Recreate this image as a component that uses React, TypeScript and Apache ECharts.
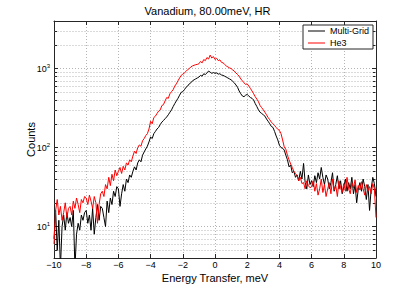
import React, { useEffect, useRef } from "react";
import * as echarts from "echarts";

const chartTitle = "Vanadium, 80.00meV, HR";
const xName = "Energy Transfer, meV";
const yName = "Counts";
const seriesNames = ["Multi-Grid", "He3"];

const energies = [
  -10, -9.9, -9.8, -9.7, -9.6, -9.5, -9.4, -9.3, -9.2, -9.1,
  -9, -8.9, -8.8, -8.7, -8.6, -8.5, -8.4, -8.3, -8.2, -8.1,
  -8, -7.9, -7.8, -7.7, -7.6, -7.5, -7.4, -7.3, -7.2, -7.1,
  -7, -6.9, -6.8, -6.7, -6.6, -6.5, -6.4, -6.3, -6.2, -6.1,
  -6, -5.9, -5.8, -5.7, -5.6, -5.5, -5.4, -5.3, -5.2, -5.1,
  -5, -4.9, -4.8, -4.7, -4.6, -4.5, -4.4, -4.3, -4.2, -4.1,
  -4, -3.9, -3.8, -3.7, -3.6, -3.5, -3.4, -3.3, -3.2, -3.1,
  -3, -2.9, -2.8, -2.7, -2.6, -2.5, -2.4, -2.3, -2.2, -2.1,
  -2, -1.9, -1.8, -1.7, -1.6, -1.5, -1.4, -1.3, -1.2, -1.1,
  -1, -0.9, -0.8, -0.7, -0.6, -0.5, -0.4, -0.3, -0.2, -0.1,
  0, 0.1, 0.2, 0.3, 0.4, 0.5, 0.6, 0.7, 0.8, 0.9,
  1, 1.1, 1.2, 1.3, 1.4, 1.5, 1.6, 1.7, 1.8, 1.9,
  2, 2.1, 2.2, 2.3, 2.4, 2.5, 2.6, 2.7, 2.8, 2.9,
  3, 3.1, 3.2, 3.3, 3.4, 3.5, 3.6, 3.7, 3.8, 3.9,
  4, 4.1, 4.2, 4.3, 4.4, 4.5, 4.6, 4.7, 4.8, 4.9,
  5, 5.1, 5.2, 5.3, 5.4, 5.5, 5.6, 5.7, 5.8, 5.9,
  6, 6.1, 6.2, 6.3, 6.4, 6.5, 6.6, 6.7, 6.8, 6.9,
  7, 7.1, 7.2, 7.3, 7.4, 7.5, 7.6, 7.7, 7.8, 7.9,
  8, 8.1, 8.2, 8.3, 8.4, 8.5, 8.6, 8.7, 8.8, 8.9,
  9, 9.1, 9.2, 9.3, 9.4, 9.5, 9.6, 9.7, 9.8, 9.9,
  10,
];

const multiGrid = [
  7, 16, 5, 12, 3, 10, 14, 9, 15, 11,
  13, 10, 16, 3, 8, 11, 9, 14, 12, 15,
  16, 11, 14, 9, 17, 8, 13, 19, 12, 18,
  17, 13, 10, 21, 15, 23, 19, 28, 24, 32,
  30, 18, 26, 34, 28, 40, 36, 45, 42, 50,
  57, 52, 64, 70, 66, 80, 88, 96, 104, 118,
  136, 130, 150, 160, 172, 180, 196, 210, 220, 232,
  244, 260, 280, 300, 330, 360, 390, 420, 460, 500,
  510, 540, 580, 600, 640, 660, 700, 720, 740, 760,
  780, 820, 800, 860, 840, 880, 930, 900, 870, 890,
  870, 880, 850, 860, 830, 820, 800, 780, 760, 740,
  720, 690, 660, 620, 580, 520, 480, 450, 440, 460,
  470, 450, 430, 420, 400, 360, 330, 300, 280, 270,
  260, 250, 230, 215, 200, 185, 180, 160, 140, 125,
  107, 100, 98, 93, 80, 70, 57, 60, 48, 50,
  42, 45, 38, 50, 40, 63, 36, 30, 45, 34,
  38, 32, 44, 36, 48, 40, 56, 42, 34, 45,
  40, 30, 36, 48, 28, 34, 44, 30, 38, 26,
  32, 40, 28, 36, 30, 42, 26, 34, 20, 30,
  36, 28, 40, 32, 22, 34, 16, 30, 42, 35,
  24,
];

const he3 = [
  6, 16, 22, 14, 18, 12, 15, 20, 13, 17,
  18, 14, 21, 17, 23, 19, 15, 22, 20, 24,
  23, 19, 25, 21, 17, 24, 20, 11, 19, 26,
  28, 24, 34, 30, 42, 33, 46, 38, 52, 44,
  50, 56, 47, 58, 52, 64, 60, 70, 66, 78,
  90, 84, 100, 108, 104, 122, 130, 142, 150, 172,
  215, 200, 240, 250, 270, 290, 300, 340, 350, 390,
  430, 420, 480, 510, 540, 600, 640, 700, 760, 820,
  850, 880, 920, 970, 1000, 1050, 1080, 1100, 1120, 1130,
  1150, 1230, 1180, 1300, 1260, 1380, 1320, 1480, 1360, 1420,
  1300, 1350, 1260, 1290, 1200, 1180, 1130, 1080, 1050, 1020,
  1000, 960, 930, 880, 840, 800, 740, 700, 660, 630,
  640, 600, 560, 520, 480, 440, 410, 380, 340, 320,
  300, 280, 260, 240, 225, 210, 200, 190, 180, 170,
  165, 150, 125, 102, 95, 80, 70, 62, 56, 50,
  47, 44, 38, 42, 35, 36, 30, 38, 33, 31,
  32, 38, 28, 35, 25, 30, 40, 27, 34, 24,
  30, 36, 26, 40, 29, 33, 24, 38, 31, 27,
  35, 28, 42, 30, 26, 36, 31, 39, 27, 33,
  29, 37, 30, 25, 34, 28, 32, 26, 35, 30,
  13,
];

const minorGridValues = [5, 6, 7, 8, 9, 20, 30, 40, 50, 60, 70, 80, 90, 200, 300, 400, 500, 600, 700, 800, 900, 2000, 3000];

const X_MIN = -10;
const X_MAX = 10;
const X_STEP = 2;
const Y_MIN = 4;
const Y_MAX = 4000;

export default function App() {
  const ref = useRef<HTMLDivElement>(null);

  useEffect(() => {
    if (!ref.current) return;
    const chart = echarts.init(ref.current, null, { renderer: "svg" });
    const font = "'Liberation Sans', Arial, sans-serif";
    const axisColor = "#262626";
    const gridColor = "#b4b4b4";
    const dotted = { color: gridColor, type: [1, 2] as any, width: 1 };

    const fmtX = (v: number) => (v < 0 ? "\u2212" + Math.abs(v) : String(v));
    const fmtY = (v: number) => {
      const l = Math.log10(v);
      const r = Math.round(l);
      if (Math.abs(l - r) > 1e-6) return "";
      return `{b|10}{s|${r}}`;
    };

    const pair = (ys: number[]) => energies.map((x, i) => [x, ys[i]]);

    const option: any = {
      animation: false,
      backgroundColor: "#ffffff",
      title: {
        text: chartTitle,
        left: "center",
        top: 0,
        padding: [5, 0, 0, 14],
        textStyle: { fontSize: 11, fontWeight: "normal", color: "#000", fontFamily: font },
      },
      grid: { left: 54, right: 39, top: 21, bottom: 32 },
      legend: {
        data: seriesNames,
        orient: "vertical",
        left: 303,
        top: 25,
        itemWidth: 17,
        itemHeight: 8,
        itemGap: 2,
        icon: "path://M0,0H17V1H0Z",
        padding: [1, 4, 1, 5],
        backgroundColor: "#ffffff",
        borderColor: axisColor,
        borderWidth: 1,
        borderRadius: 0,
        textStyle: { fontSize: 9, fontFamily: font, color: "#000", lineHeight: 10 },
      },
      xAxis: [
        {
          type: "value",
          min: X_MIN,
          max: X_MAX,
          interval: X_STEP,
          position: "bottom",
          name: xName,
          nameLocation: "middle",
          nameGap: 14,
          nameMoveOverlap: false,
          nameTextStyle: { fontSize: 11, lineHeight: 11, color: "#000", fontFamily: font },
          axisLine: { show: true, onZero: false, lineStyle: { color: axisColor, width: 1 } },
          axisTick: { show: true, inside: true, length: 4, lineStyle: { color: axisColor } },
          axisLabel: { formatter: fmtX, fontSize: 9, lineHeight: 9, color: "#000", fontFamily: font, margin: 2 },
          splitLine: { show: true, lineStyle: dotted },
        },
        {
          type: "value",
          min: X_MIN,
          max: X_MAX,
          interval: X_STEP,
          position: "top",
          axisLine: { show: true, onZero: false, lineStyle: { color: axisColor, width: 1 } },
          axisTick: { show: true, inside: true, length: 4, lineStyle: { color: axisColor } },
          axisLabel: { show: false },
          splitLine: { show: false },
        },
      ],
      yAxis: [
        {
          type: "log",
          logBase: 10,
          min: Y_MIN,
          max: Y_MAX,
          position: "left",
          name: yName,
          nameLocation: "middle",
          nameGap: 18,
          nameMoveOverlap: false,
          nameTextStyle: { fontSize: 11, color: "#000", fontFamily: font },
          axisLine: { show: true, onZero: false, lineStyle: { color: axisColor, width: 1 } },
          axisTick: { show: true, inside: true, length: 4, lineStyle: { color: axisColor } },
          axisLabel: {
            formatter: fmtY,
            margin: 4,
            rich: {
              b: { fontSize: 9, color: "#000", fontFamily: font },
              s: { fontSize: 6, color: "#000", fontFamily: font, verticalAlign: "top", padding: [0, 0, 5, 0] },
            },
          },
          splitLine: { show: true, lineStyle: dotted },
        },
        {
          type: "log",
          logBase: 10,
          min: Y_MIN,
          max: Y_MAX,
          position: "right",
          axisLine: { show: true, onZero: false, lineStyle: { color: axisColor, width: 1 } },
          axisTick: { show: true, inside: true, length: 4, lineStyle: { color: axisColor } },
          axisLabel: { show: false },
          splitLine: { show: false },
        },
      ],
      series: [
        {
          type: "custom",
          name: "minor",
          xAxisIndex: 0,
          yAxisIndex: 0,
          silent: true,
          z: 1,
          data: minorGridValues.map((v) => [X_MIN, v]),
          renderItem: (_params: any, api: any) => {
            const v = api.value(1);
            const a = api.coord([X_MIN, v]);
            const b = api.coord([X_MAX, v]);
            const y = Math.round(a[1]) + 0.5;
            const x1 = Math.round(a[0]) + 0.5;
            const x2 = Math.round(b[0]) - 0.5;
            return {
              type: "group",
              children: [
                { type: "line", shape: { x1, y1: y, x2, y2: y }, style: { stroke: gridColor, lineWidth: 1, lineDash: [1, 2] } },
                { type: "line", shape: { x1, y1: y, x2: x1 + 2.5, y2: y }, style: { stroke: axisColor, lineWidth: 1 } },
                { type: "line", shape: { x1: x2 - 2.5, y1: y, x2, y2: y }, style: { stroke: axisColor, lineWidth: 1 } },
              ],
            };
          },
        },
        {
          type: "line",
          name: seriesNames[0],
          data: pair(multiGrid),
          symbol: "none",
          clip: true,
          z: 3,
          itemStyle: { color: "#000000" },
          lineStyle: { color: "#000000", width: 1 },
        },
        {
          type: "line",
          name: seriesNames[1],
          data: pair(he3),
          symbol: "none",
          clip: true,
          z: 4,
          itemStyle: { color: "#ff0000" },
          lineStyle: { color: "#ff0000", width: 1 },
        },
      ],
    };

    chart.setOption(option);
    return () => chart.dispose();
  }, []);

  return (
    <div
      ref={ref}
      style={{ position: "absolute", left: 0, top: 0, width: 415, height: 290, background: "#fff" }}
    />
  );
}
